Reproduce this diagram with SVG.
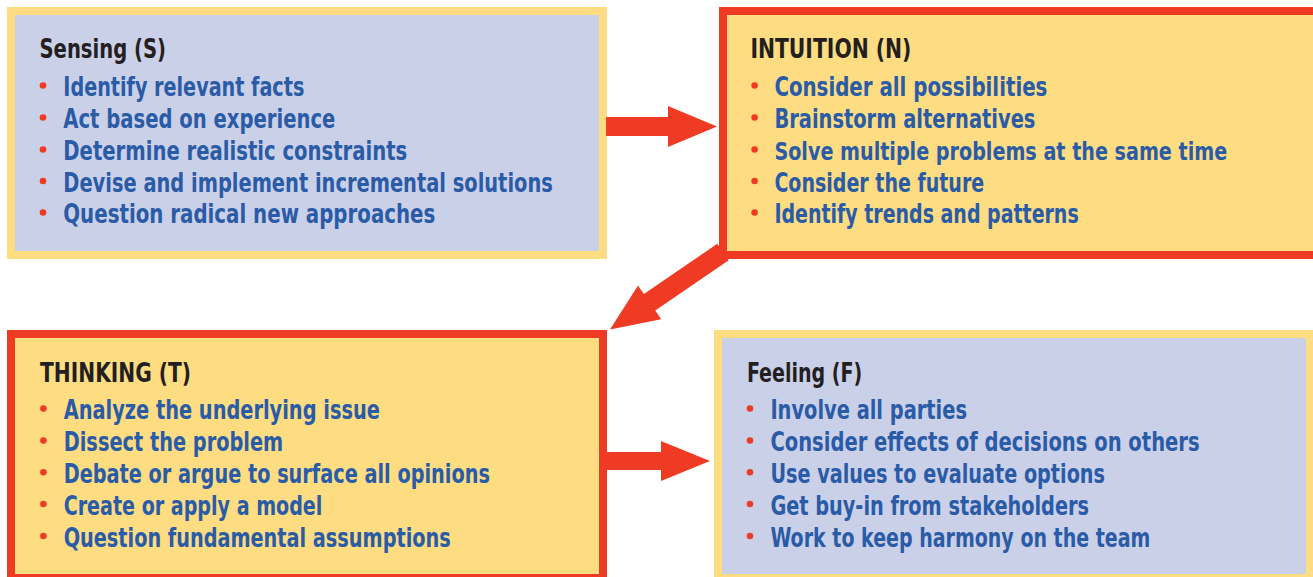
<svg xmlns="http://www.w3.org/2000/svg" width="1313" height="577" viewBox="0 0 1313 577">
<style>
.bg{fill:#ffffff}
.lav{fill:#cbd0e9;stroke:#fddc82;stroke-width:8}
.yel{fill:#fddc82;stroke:#ef3b24;stroke-width:8}
.arrow{fill:#ef3b24}
.title{font-family:"Liberation Sans Narrow","DejaVu Sans Condensed","Liberation Sans",sans-serif;font-weight:bold;font-size:27px;fill:#231f20}
.item{font-family:"Liberation Sans Narrow","DejaVu Sans Condensed","Liberation Sans",sans-serif;font-weight:bold;font-size:26px;fill:#2a5ba6}
.long{font-size:24px}
.dot{fill:#ef3b24}
</style>
<rect class="bg" x="0" y="0" width="1313" height="577"/>
<g id="sensing">
<rect class="lav" x="11" y="11" width="592" height="244"/>
<text class="title" x="39.5" y="58.3" textLength="126.5" lengthAdjust="spacingAndGlyphs">Sensing (S)</text>
<circle class="dot" cx="43" cy="85.5" r="3.3"/><text class="item" x="63.3" y="96" textLength="241" lengthAdjust="spacingAndGlyphs">Identify relevant facts</text>
<circle class="dot" cx="43" cy="117.5" r="3.3"/><text class="item" x="63.3" y="128" textLength="272" lengthAdjust="spacingAndGlyphs">Act based on experience</text>
<circle class="dot" cx="43" cy="149.5" r="3.3"/><text class="item" x="63.3" y="160" textLength="344" lengthAdjust="spacingAndGlyphs">Determine realistic constraints</text>
<circle class="dot" cx="43" cy="181" r="3.3"/><text class="item" x="63.3" y="191.5" textLength="489.5" lengthAdjust="spacingAndGlyphs">Devise and implement incremental solutions</text>
<circle class="dot" cx="43" cy="212.5" r="3.3"/><text class="item" x="63.3" y="223" textLength="372" lengthAdjust="spacingAndGlyphs">Question radical new approaches</text>
</g>
<g id="intuition">
<rect class="yel" x="723" y="11" width="595" height="244"/>
<text class="title" x="750.4" y="58.3" textLength="161" lengthAdjust="spacingAndGlyphs">INTUITION (N)</text>
<circle class="dot" cx="754.6" cy="85.5" r="3.3"/><text class="item" x="774.4" y="96" textLength="273" lengthAdjust="spacingAndGlyphs">Consider all possibilities</text>
<circle class="dot" cx="754.6" cy="117.5" r="3.3"/><text class="item" x="774.4" y="128" textLength="261" lengthAdjust="spacingAndGlyphs">Brainstorm alternatives</text>
<circle class="dot" cx="754.6" cy="149.5" r="3.3"/><text class="item long" x="774.4" y="160" textLength="452.8" lengthAdjust="spacingAndGlyphs">Solve multiple problems at the same time</text>
<circle class="dot" cx="754.6" cy="181" r="3.3"/><text class="item" x="774.4" y="191.5" textLength="209.8" lengthAdjust="spacingAndGlyphs">Consider the future</text>
<circle class="dot" cx="754.6" cy="212.5" r="3.3"/><text class="item" x="774.4" y="223" textLength="304.3" lengthAdjust="spacingAndGlyphs">Identify trends and patterns</text>
</g>
<g id="thinking">
<rect class="yel" x="11" y="334" width="592" height="244"/>
<text class="title" x="40.1" y="381.7" textLength="151" lengthAdjust="spacingAndGlyphs">THINKING (T)</text>
<circle class="dot" cx="43.4" cy="408.5" r="3.3"/><text class="item" x="63.7" y="419" textLength="316.2" lengthAdjust="spacingAndGlyphs">Analyze the underlying issue</text>
<circle class="dot" cx="43.4" cy="440.5" r="3.3"/><text class="item" x="63.7" y="451" textLength="219.5" lengthAdjust="spacingAndGlyphs">Dissect the problem</text>
<circle class="dot" cx="43.4" cy="472.2" r="3.3"/><text class="item" x="63.7" y="482.7" textLength="426.2" lengthAdjust="spacingAndGlyphs">Debate or argue to surface all opinions</text>
<circle class="dot" cx="43.4" cy="504" r="3.3"/><text class="item" x="63.7" y="514.5" textLength="258.6" lengthAdjust="spacingAndGlyphs">Create or apply a model</text>
<circle class="dot" cx="43.4" cy="536" r="3.3"/><text class="item" x="63.7" y="546.5" textLength="387" lengthAdjust="spacingAndGlyphs">Question fundamental assumptions</text>
</g>
<g id="feeling">
<rect class="lav" x="718" y="334" width="592" height="244"/>
<text class="title" x="746.9" y="381.7" textLength="115.3" lengthAdjust="spacingAndGlyphs">Feeling (F)</text>
<circle class="dot" cx="750" cy="408.5" r="3.3"/><text class="item" x="770.4" y="419" textLength="196.6" lengthAdjust="spacingAndGlyphs">Involve all parties</text>
<circle class="dot" cx="750" cy="440.5" r="3.3"/><text class="item" x="770.4" y="451" textLength="429.2" lengthAdjust="spacingAndGlyphs">Consider effects of decisions on others</text>
<circle class="dot" cx="750" cy="472.2" r="3.3"/><text class="item" x="770.4" y="482.7" textLength="334.6" lengthAdjust="spacingAndGlyphs">Use values to evaluate options</text>
<circle class="dot" cx="750" cy="504" r="3.3"/><text class="item" x="770.4" y="514.5" textLength="318.6" lengthAdjust="spacingAndGlyphs">Get buy-in from stakeholders</text>
<circle class="dot" cx="750" cy="536" r="3.3"/><text class="item" x="770.4" y="546.5" textLength="380" lengthAdjust="spacingAndGlyphs">Work to keep harmony on the team</text>
</g>
<g id="connectors">
<polygon class="arrow" points="606,117 668,117 668,106 717,126.5 668,147 668,136 606,136"/>
<polygon class="arrow" points="717.3,243.8 643.9,294 638,285.4 610,329.5 661.2,319.2 655.3,310.6 728.7,260.3"/>
<polygon class="arrow" points="606,452 661,452 661,441 710,461 661,481 661,470 606,470"/>
</g>
</svg>
